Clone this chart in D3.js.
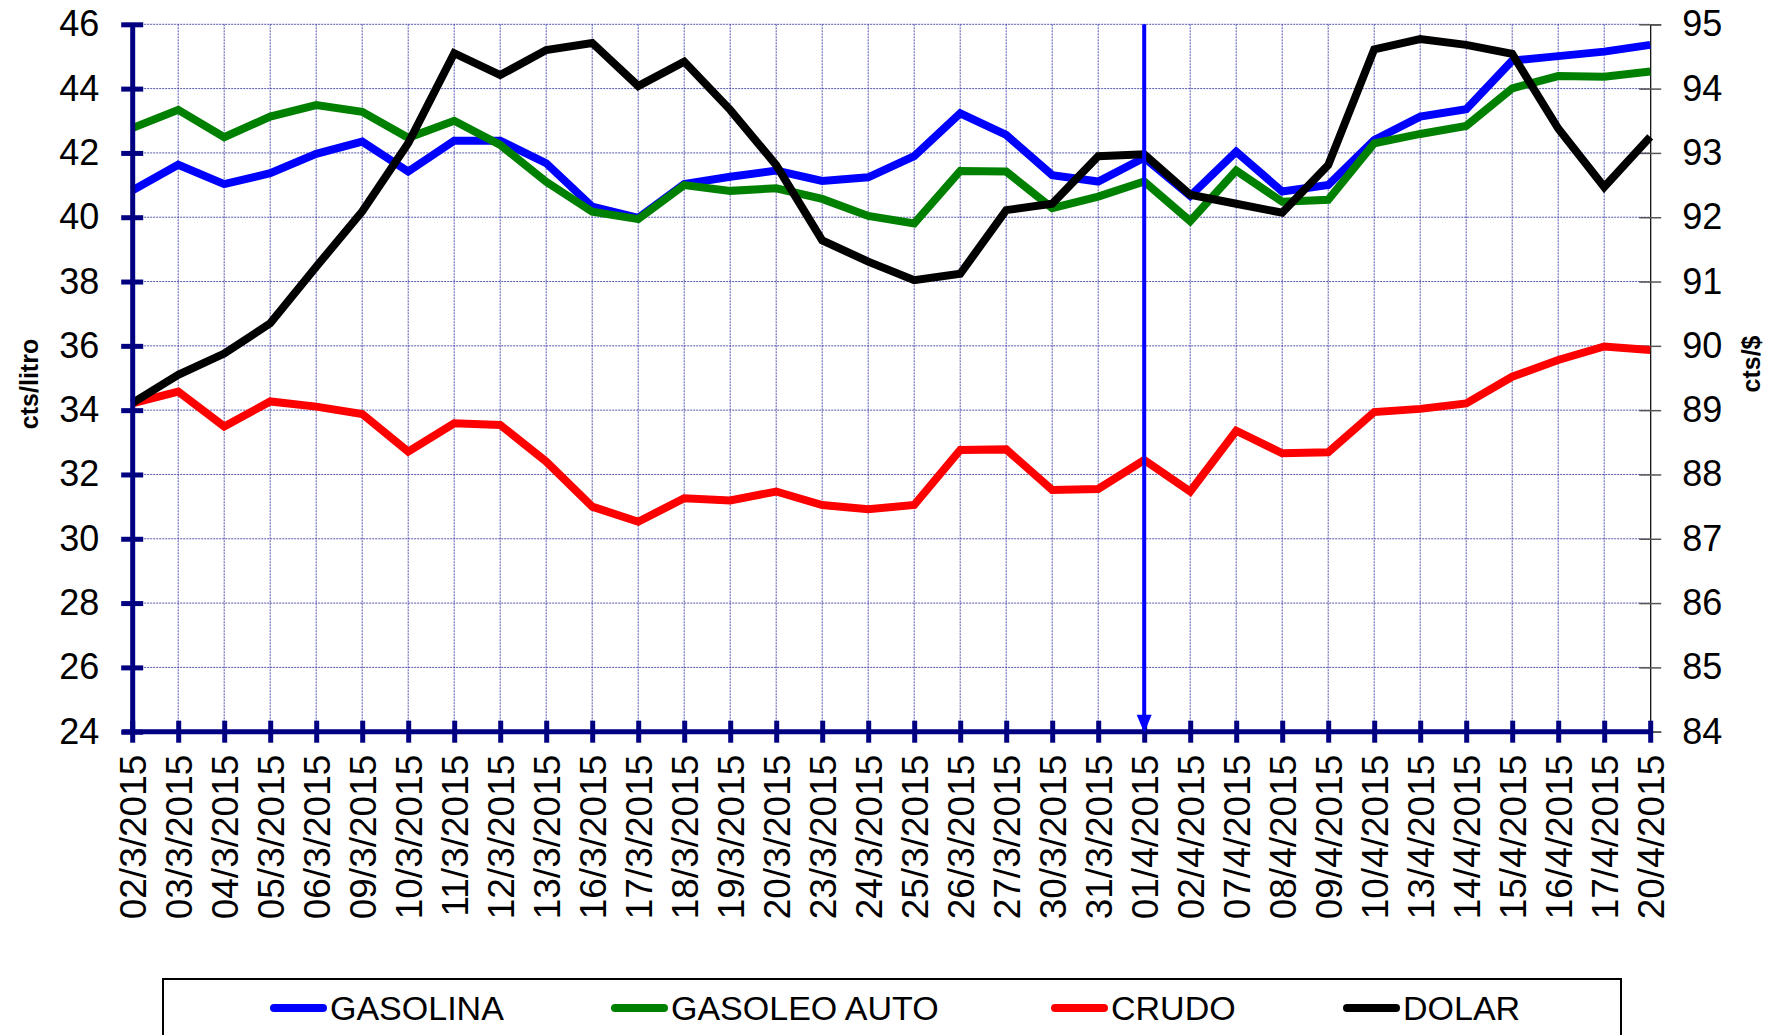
<!DOCTYPE html>
<html>
<head>
<meta charset="utf-8">
<script src="https://cdn.jsdelivr.net/npm/d3@7.9.0/dist/d3.min.js"></script>
<style>
  html, body { margin: 0; padding: 0; background: #fff; overflow: hidden; }
  svg { display: block; font-family: "Liberation Sans", Arial, sans-serif; }
</style>
</head>
<body>
<svg id="chart" width="1771" height="1035"></svg>
<script>
// dates on the category axis
const dates = ['02/3/2015', '03/3/2015', '04/3/2015', '05/3/2015', '06/3/2015', '09/3/2015',
  '10/3/2015', '11/3/2015', '12/3/2015', '13/3/2015', '16/3/2015', '17/3/2015', '18/3/2015',
  '19/3/2015', '20/3/2015', '23/3/2015', '24/3/2015', '25/3/2015', '26/3/2015', '27/3/2015',
  '30/3/2015', '31/3/2015', '01/4/2015', '02/4/2015', '07/4/2015', '08/4/2015', '09/4/2015',
  '10/4/2015', '13/4/2015', '14/4/2015', '15/4/2015', '16/4/2015', '17/4/2015', '20/4/2015'];

// cts/litro (left axis)
const gasolina = [40.83, 41.63, 41.03, 41.37, 41.97, 42.35, 41.42, 42.38, 42.38, 41.68, 40.33,
  39.98, 41.03, 41.26, 41.45, 41.13, 41.24, 41.9, 43.23, 42.56, 41.31, 41.11, 41.85, 40.66,
  42.04, 40.8, 41.0, 42.4, 43.13, 43.36, 44.87, 45.01, 45.15, 45.36];
const gasoleo = [42.77, 43.34, 42.49, 43.13, 43.49, 43.28, 42.47, 43.0, 42.25, 41.1, 40.17,
  39.94, 41.0, 40.82, 40.9, 40.57, 40.04, 39.81, 41.44, 41.42, 40.28, 40.64, 41.11, 39.88,
  41.45, 40.48, 40.54, 42.3, 42.59, 42.84, 44.01, 44.39, 44.37, 44.53];
const crudo = [34.21, 34.58, 33.49, 34.27, 34.11, 33.88, 32.71, 33.59, 33.54, 32.4, 31.0,
  30.53, 31.26, 31.19, 31.47, 31.05, 30.92, 31.05, 32.76, 32.78, 31.52, 31.55, 32.45, 31.47,
  33.36, 32.66, 32.69, 33.94, 34.04, 34.21, 35.04, 35.56, 35.98, 35.87];

// cts/$ (right axis)
const dolar = [89.11, 89.55, 89.88, 90.35, 91.23, 92.09, 93.15, 94.55, 94.21, 94.6, 94.71,
  94.04, 94.42, 93.67, 92.81, 91.64, 91.31, 91.02, 91.12, 92.11, 92.21, 92.95, 92.98, 92.35,
  92.21, 92.07, 92.81, 94.61, 94.77, 94.68, 94.54, 93.38, 92.47, 93.25];

const leftTicks = [24, 26, 28, 30, 32, 34, 36, 38, 40, 42, 44, 46];
const rightTicks = [84, 85, 86, 87, 88, 89, 90, 91, 92, 93, 94, 95];
const markerDate = '01/4/2015';

const series = [
  { name: 'GASOLINA', values: gasolina, color: '#0000ff', axis: 'left' },
  { name: 'GASOLEO AUTO', values: gasoleo, color: '#008000', axis: 'left' },
  { name: 'CRUDO', values: crudo, color: '#ff0000', axis: 'left' },
  { name: 'DOLAR', values: dolar, color: '#000000', axis: 'right' },
];

const svg = d3.select('#chart');
const plot = { left: 132.2, right: 1650.2, top: 24.3, bottom: 731.7 };
const navy = '#000080';

const x = d3.scalePoint().domain(dates).range([plot.left, plot.right]);
const yL = d3.scaleLinear().domain([24, 46]).range([plot.bottom, plot.top]);
const yR = d3.scaleLinear().domain([84, 95]).range([plot.bottom, plot.top]);

// gridlines
const grid = svg.append('g')
  .attr('stroke', '#3a3aa0')
  .attr('stroke-width', 1)
  .attr('stroke-dasharray', '2,1')
  .attr('stroke-opacity', 0.85);

grid.selectAll('.hg')
  .data(leftTicks.slice(1))
  .join('line')
  .attr('x1', plot.left).attr('x2', plot.right)
  .attr('y1', (d) => yL(d)).attr('y2', (d) => yL(d));

grid.selectAll('.vg')
  .data(dates.slice(1, -1))
  .join('line')
  .attr('x1', (d) => x(d)).attr('x2', (d) => x(d))
  .attr('y1', plot.top).attr('y2', plot.bottom);

// right axis (secondary)
const rightAxis = svg.append('g')
  .attr('transform', `translate(${plot.right},0)`)
  .call(d3.axisRight(yR).tickValues(rightTicks).tickSize(11).tickPadding(21));
rightAxis.select('.domain').attr('stroke', '#000').attr('stroke-width', 1.2);
rightAxis.selectAll('.tick line').attr('x1', -11).attr('stroke', '#555').attr('stroke-width', 1.5);
rightAxis.selectAll('.tick text')
  .attr('font-size', 36).attr('fill', '#000')
  .attr('font-family', '"Liberation Sans", Arial, sans-serif');

// series lines
const line = (scale) => d3.line()
  .x((d, i) => x(dates[i]))
  .y((d) => scale(d));

svg.append('g')
  .selectAll('path')
  .data(series)
  .join('path')
  .attr('fill', 'none')
  .attr('stroke', (d) => d.color)
  .attr('stroke-width', 8)
  .attr('stroke-linejoin', 'miter')
  .attr('d', (d) => line(d.axis === 'left' ? yL : yR)(d.values));

// left axis
const leftAxis = svg.append('g')
  .attr('transform', `translate(${plot.left},0)`)
  .call(d3.axisLeft(yL).tickValues(leftTicks).tickSize(11).tickSizeOuter(0).tickPadding(22));
leftAxis.select('.domain').attr('stroke', navy).attr('stroke-width', 5);
leftAxis.selectAll('.tick line').attr('x1', 11).attr('stroke', navy).attr('stroke-width', 5);
leftAxis.selectAll('.tick text')
  .attr('font-size', 36).attr('fill', '#000')
  .attr('font-family', '"Liberation Sans", Arial, sans-serif');

// bottom axis
const bottomAxis = svg.append('g')
  .attr('transform', `translate(0,${plot.bottom})`)
  .call(d3.axisBottom(x).tickSize(11).tickSizeOuter(0));
bottomAxis.select('.domain').attr('stroke', navy).attr('stroke-width', 5)
  .attr('d', `M${plot.left - 10},0H${plot.right}`);
bottomAxis.selectAll('.tick line').attr('y1', -11).attr('stroke', navy).attr('stroke-width', 5);
bottomAxis.selectAll('.tick text')
  .attr('font-size', 37).attr('fill', '#000')
  .attr('font-family', '"Liberation Sans", Arial, sans-serif')
  .attr('text-anchor', 'end')
  .attr('transform', 'translate(0,23) rotate(-90)')
  .attr('x', 0).attr('y', 0).attr('dy', '0.36em');

// marker arrow at 01/4/2015
const mx = x(markerDate);
svg.append('line')
  .attr('x1', mx).attr('x2', mx)
  .attr('y1', plot.top).attr('y2', plot.bottom - 14)
  .attr('stroke', '#0000ff').attr('stroke-width', 4);
svg.append('path')
  .attr('d', `M${mx - 7.5},${plot.bottom - 17}L${mx + 7.5},${plot.bottom - 17}L${mx},${plot.bottom + 1}Z`)
  .attr('fill', '#0000ff');

// axis titles
svg.append('text')
  .attr('transform', 'translate(29,384) rotate(-90)')
  .attr('text-anchor', 'middle')
  .attr('dy', '0.35em')
  .attr('font-size', 25).attr('font-weight', 'bold')
  .text('cts/litro');

svg.append('text')
  .attr('transform', 'translate(1751,364) rotate(-90)')
  .attr('text-anchor', 'middle')
  .attr('dy', '0.35em')
  .attr('font-size', 25).attr('font-weight', 'bold')
  .text('cts/$');

// legend
const legendX = [274, 615, 1055, 1347];
const legend = svg.append('g');
legend.append('rect')
  .attr('x', 163).attr('y', 979)
  .attr('width', 1458).attr('height', 120)
  .attr('fill', '#fff').attr('stroke', '#000').attr('stroke-width', 2);

const items = legend.selectAll('.item')
  .data(series)
  .join('g')
  .attr('transform', (d, i) => `translate(${legendX[i]},1008)`);
items.append('line')
  .attr('x1', 0).attr('x2', 49)
  .attr('stroke', (d) => d.color)
  .attr('stroke-width', 8)
  .attr('stroke-linecap', 'round');
items.append('text')
  .attr('x', 56).attr('y', 12)
  .attr('font-size', 34)
  .text((d) => d.name);
</script>
</body>
</html>
